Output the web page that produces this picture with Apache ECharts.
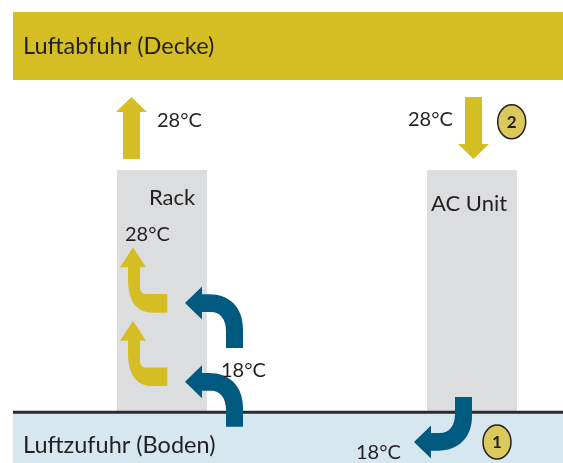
<!DOCTYPE html>
<html><head><meta charset="utf-8">
<script src="https://cdn.jsdelivr.net/npm/echarts@6/dist/echarts.min.js"></script>
<style>html,body{margin:0;padding:0;background:#fff}#c{width:563px;height:463px}</style>
</head><body><div id="c"></div>
<script>
// ---- diagram data (diagram units on hidden value axes) ----
const zoneNames = ['Luftabfuhr (Decke)', 'Luftzufuhr (Boden)'];
const zoneBoxes = [[13, 12, 563, 80], [13, 413, 563, 463]];
const zoneLabelPos = [[23, 46], [23, 445]];
const unitNames = ['Rack', 'AC Unit'];
const unitBoxes = [[117, 170, 207, 412], [427, 170, 517, 412]];
const unitLabelPos = [[149, 198], [431, 204]];
const floorLine = [[13, 412.3, 563]];
const straightArrows = [[131.5, 97, 1], [473.5, 159, -1]];   // tip x, tip y, direction (1 up, -1 down)
const warmHooks = [[133, 247.3], [133, 320.7]];              // tip x, tip y
const coolHooks = [[185, 303, 1], [185, 381.7, 1], [414, 442, -1]]; // tip x, tip y, shaft dir
const tempLabels = ['28°C', '28°C', '28°C', '18°C', '18°C'];
const tempPos = [[157, 120.5], [125, 234.5], [408, 119.5], [221, 371], [356, 453]];
const stepLabels = ['2', '1'];
const stepPos = [[511.7, 121.7], [497, 442]];

const C = {
  yellow: '#d5be24', blue: '#005a7f', gray: '#dcdddf', light: '#d7e7ef',
  text: '#231f20', badge: '#dcc95c', line: '#2b2b2b'
};
const FONT = 'Lato, "Open Sans", sans-serif';

const SHAPES = {
  straight: 'M0 0 L15.5 15 L8.5 15 L8.5 62 L-8.5 62 L-8.5 15 L-15.5 15 Z',
  warm: 'M0 0 L13 20 L7 20 L7 40 C7 44 9 46.7 13 46.7 L34.3 46.7 L34.3 65.4 L20 65.4 C2 65.4 -5 52 -5 32 L-5 20 L-13 20 Z',
  cool: 'M0 0 L17 -16.5 L17 -8.7 L24 -8.7 C44 -8.7 58 4 58 26 L58 45 L41 45 L41 28 C41 16 35 9 26 9 L17 9 L17 16.5 Z'
};

function k(api) { const a = api.coord([0, 0]), b = api.coord([1, 1]); return [b[0] - a[0], b[1] - a[1]]; }
function shapeEl(api, x, y, path, sy, color) {
  const p = api.coord([x, y]), s = k(api);
  return { type: 'group', x: p[0], y: p[1], scaleX: s[0], scaleY: s[1] * sy,
    children: [{ type: 'path', shape: { pathData: path }, style: { fill: color } }] };
}
function textEl(api, x, y, txt, size, align, weight) {
  const p = api.coord([x, y]);
  return { type: 'text', x: p[0], y: p[1], style: { text: txt, fill: C.text, fontSize: size,
    fontFamily: FONT, fontWeight: weight || 'normal', align: align || 'left', verticalAlign: 'middle' } };
}
function rectEl(api, b, color) {
  const p0 = api.coord([b[0], b[1]]), p1 = api.coord([b[2], b[3]]);
  return { type: 'rect', shape: { x: p0[0], y: p0[1], width: p1[0] - p0[0], height: p1[1] - p0[1] }, style: { fill: color } };
}

const option = {
  animation: false,
  grid: { left: 0, right: 0, top: 0, bottom: 0 },
  xAxis: { type: 'value', min: 0, max: 563, show: false },
  yAxis: { type: 'value', min: 0, max: 463, inverse: true, show: false },
  series: [
    { type: 'custom', z: 1, data: zoneBoxes.map((b, i) => [i]),
      renderItem: (params, api) => {
        const i = params.dataIndex;
        return { type: 'group', children: [
          rectEl(api, zoneBoxes[i], i === 0 ? C.yellow : C.light),
          textEl(api, zoneLabelPos[i][0], zoneLabelPos[i][1], zoneNames[i], 23.5)
        ] };
      } },
    { type: 'custom', z: 2, data: unitBoxes.map((b, i) => [i]),
      renderItem: (params, api) => {
        const i = params.dataIndex;
        return { type: 'group', children: [
          rectEl(api, unitBoxes[i], C.gray),
          textEl(api, unitLabelPos[i][0], unitLabelPos[i][1], unitNames[i], 22)
        ] };
      } },
    { type: 'custom', z: 3, data: floorLine,
      renderItem: (params, api) => {
        const a = api.coord([api.value(0), api.value(1)]), b = api.coord([api.value(2), api.value(1)]);
        return { type: 'line', shape: { x1: a[0], y1: a[1], x2: b[0], y2: b[1] }, style: { stroke: C.line, lineWidth: 3 } };
      } },
    { type: 'custom', z: 4, data: straightArrows,
      renderItem: (params, api) => shapeEl(api, api.value(0), api.value(1), SHAPES.straight, api.value(2), C.yellow) },
    { type: 'custom', z: 4, data: warmHooks,
      renderItem: (params, api) => shapeEl(api, api.value(0), api.value(1), SHAPES.warm, 1, C.yellow) },
    { type: 'custom', z: 4, data: coolHooks,
      renderItem: (params, api) => shapeEl(api, api.value(0), api.value(1), SHAPES.cool, api.value(2), C.blue) },
    { type: 'custom', z: 5, data: tempPos,
      renderItem: (params, api) => textEl(api, api.value(0), api.value(1), tempLabels[params.dataIndex], 20) },
    { type: 'custom', z: 5, data: stepPos,
      renderItem: (params, api) => {
        const p = api.coord([api.value(0), api.value(1)]), s = k(api);
        return { type: 'group', children: [
          { type: 'ellipse', shape: { cx: p[0], cy: p[1], rx: 14 * s[0], ry: 17 * s[1] },
            style: { fill: C.badge, stroke: C.text, lineWidth: 1.5 } },
          textEl(api, api.value(0), api.value(1) + 1, stepLabels[params.dataIndex], 17, 'center', 'bold')
        ] };
      } }
  ]
};
const chart = echarts.init(document.getElementById('c'));
chart.setOption(option);
</script></body></html>
